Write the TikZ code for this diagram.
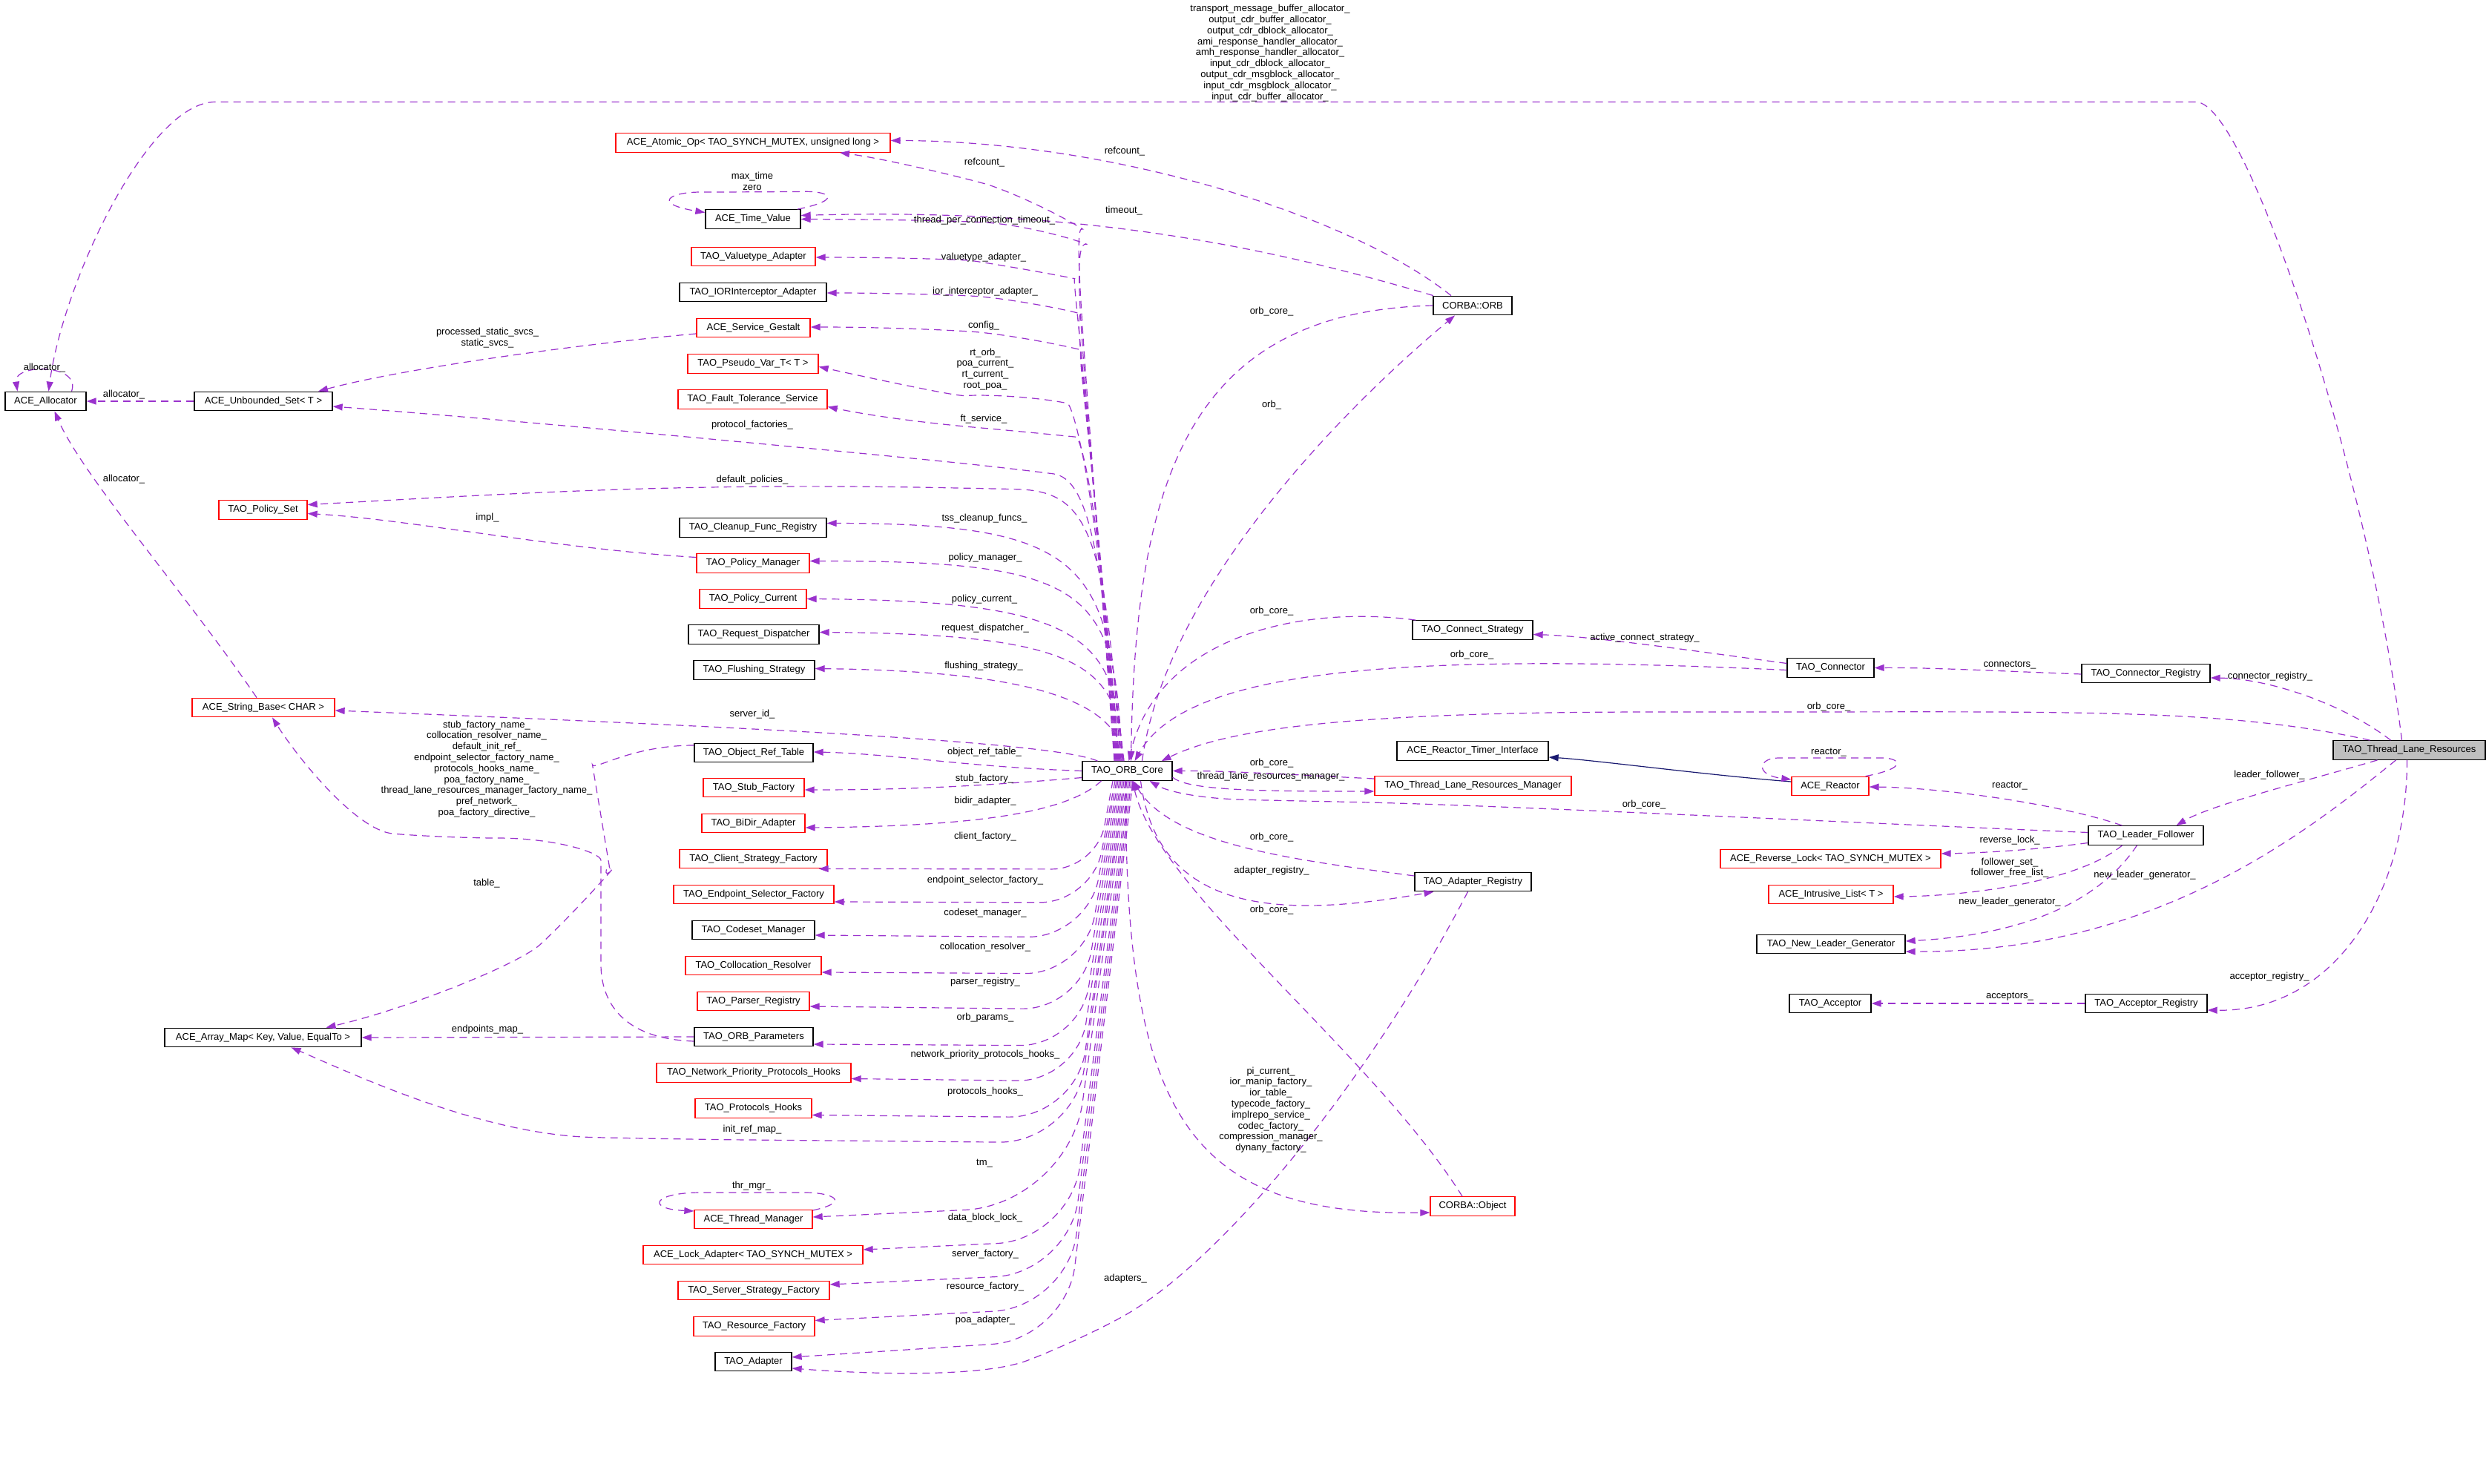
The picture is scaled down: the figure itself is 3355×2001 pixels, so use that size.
\documentclass[tikz,border=0pt]{standalone}
\usepackage{fontspec}
\setmainfont{Liberation Sans}
\usetikzlibrary{arrows.meta}
\definecolor{depc}{HTML}{9A32CD}
\definecolor{inhc}{HTML}{191970}
\definecolor{redb}{HTML}{FF0000}
\definecolor{selfill}{HTML}{BFBFBF}
\newcommand\dgfont{\fontsize{13}{14.8}\selectfont}
\begin{document}
\begin{tikzpicture}[x=1pt,y=-1pt,
  cls/.style={draw=black, line width=1.3pt, minimum height=25.5pt, inner xsep=0pt, inner ysep=0pt, font=\dgfont},
  rcls/.style={cls, draw=redb},
  dep/.style={draw=depc, line width=1.2pt, dash pattern=on 10pt off 7pt, -{Triangle[length=13pt,width=9pt]}, rounded corners=70pt},
  inh/.style={draw=inhc, line width=1.2pt, -{Triangle[length=13pt,width=9pt]}},
  lbl/.style={font=\dgfont, inner sep=0pt, align=center}]
\useasboundingbox (0,0) rectangle (3355,2001);
\fill[white] (0,0) rectangle (3355,2001);
% ---------- nodes
\node[cls, minimum width=109pt] (alloc) at (61.5,541) {ACE\_Allocator};
\node[cls, minimum width=186pt] (uset) at (355,541) {ACE\_Unbounded\_Set< T >};
\node[rcls, minimum width=370pt] (atomic) at (1015,192.5) {ACE\_Atomic\_Op< TAO\_SYNCH\_MUTEX, unsigned long >};
\node[cls, minimum width=128pt] (timev) at (1015,295.5) {ACE\_Time\_Value};
\node[rcls, minimum width=167pt] (valt) at (1015.5,346) {TAO\_Valuetype\_Adapter};
\node[cls, minimum width=198pt] (iori) at (1015,394) {TAO\_IORInterceptor\_Adapter};
\node[rcls, minimum width=153pt] (gestalt) at (1015.5,442) {ACE\_Service\_Gestalt};
\node[rcls, minimum width=176pt] (pseudo) at (1015,490.5) {TAO\_Pseudo\_Var\_T< T >};
\node[rcls, minimum width=201pt] (ftol) at (1014.5,538.5) {TAO\_Fault\_Tolerance\_Service};
\node[rcls, minimum width=119pt] (pset) at (354.5,687.5) {TAO\_Policy\_Set};
\node[cls, minimum width=198pt] (cleanup) at (1015,711.5) {TAO\_Cleanup\_Func\_Registry};
\node[rcls, minimum width=152pt] (pman) at (1015,759.5) {TAO\_Policy\_Manager};
\node[rcls, minimum width=144pt] (pcur) at (1015,807.5) {TAO\_Policy\_Current};
\node[cls, minimum width=176pt] (rdisp) at (1016,855.5) {TAO\_Request\_Dispatcher};
\node[cls, minimum width=163pt] (flush) at (1016.5,903.5) {TAO\_Flushing\_Strategy};
\node[rcls, minimum width=192pt] (sbase) at (355,954) {ACE\_String\_Base< CHAR >};
\node[cls, minimum width=160pt] (oref) at (1016,1015) {TAO\_Object\_Ref\_Table};
\node[rcls, minimum width=136pt] (stub) at (1016,1062) {TAO\_Stub\_Factory};
\node[rcls, minimum width=139pt] (bidir) at (1015.5,1110) {TAO\_BiDir\_Adapter};
\node[rcls, minimum width=199pt] (csf) at (1015.5,1158) {TAO\_Client\_Strategy\_Factory};
\node[rcls, minimum width=216pt] (esf) at (1016,1206) {TAO\_Endpoint\_Selector\_Factory};
\node[cls, minimum width=165pt] (codeset) at (1015.5,1254) {TAO\_Codeset\_Manager};
\node[rcls, minimum width=183pt] (colloc) at (1015.5,1302) {TAO\_Collocation\_Resolver};
\node[rcls, minimum width=151pt] (parser) at (1015.5,1350) {TAO\_Parser\_Registry};
\node[cls, minimum width=265pt] (amap) at (354.5,1399) {ACE\_Array\_Map< Key, Value, EqualTo >};
\node[cls, minimum width=160pt] (oparams) at (1016,1398) {TAO\_ORB\_Parameters};
\node[rcls, minimum width=262pt] (nph) at (1016,1446.5) {TAO\_Network\_Priority\_Protocols\_Hooks};
\node[rcls, minimum width=157pt] (phooks) at (1015.5,1494.5) {TAO\_Protocols\_Hooks};
\node[rcls, minimum width=159pt] (tmgr) at (1015.5,1644) {ACE\_Thread\_Manager};
\node[rcls, minimum width=296pt] (lockad) at (1015,1692) {ACE\_Lock\_Adapter< TAO\_SYNCH\_MUTEX >};
\node[rcls, minimum width=204pt] (ssf) at (1016,1740) {TAO\_Server\_Strategy\_Factory};
\node[rcls, minimum width=163pt] (rfac) at (1016.5,1788.5) {TAO\_Resource\_Factory};
\node[cls, minimum width=103pt] (adapter) at (1015.5,1836) {TAO\_Adapter};
\node[cls, minimum width=121pt] (orbcore) at (1519.5,1039.5) {TAO\_ORB\_Core};
\node[cls, minimum width=106pt] (corb) at (1985,412) {CORBA::ORB};
\node[cls, minimum width=162pt] (cstrat) at (1985,849.5) {TAO\_Connect\_Strategy};
\node[cls, minimum width=204pt] (rti) at (1985,1012.5) {ACE\_Reactor\_Timer\_Interface};
\node[rcls, minimum width=265pt] (tlrm) at (1985.5,1059.5) {TAO\_Thread\_Lane\_Resources\_Manager};
\node[cls, minimum width=157pt] (areg) at (1985.5,1189) {TAO\_Adapter\_Registry};
\node[rcls, minimum width=114pt] (cobj) at (1985,1626.5) {CORBA::Object};
\node[cls, minimum width=117pt] (conn) at (2467.5,900.5) {TAO\_Connector};
\node[cls, minimum width=173pt] (creg) at (2892.5,908) {TAO\_Connector\_Registry};
\node[cls, fill=selfill, minimum width=205pt] (tlr) at (3247.5,1011.5) {TAO\_Thread\_Lane\_Resources};
\node[rcls, minimum width=104pt] (reactor) at (2467,1060) {ACE\_Reactor};
\node[cls, minimum width=155pt] (lf) at (2892.5,1126.5) {TAO\_Leader\_Follower};
\node[rcls, minimum width=297pt] (rlock) at (2467.5,1158) {ACE\_Reverse\_Lock< TAO\_SYNCH\_MUTEX >};
\node[rcls, minimum width=168pt] (ilist) at (2468,1206) {ACE\_Intrusive\_List< T >};
\node[cls, minimum width=200pt] (nlg) at (2468,1273) {TAO\_New\_Leader\_Generator};
\node[cls, minimum width=110pt] (acc) at (2467,1353) {TAO\_Acceptor};
\node[cls, minimum width=164pt] (accreg) at (2893,1353) {TAO\_Acceptor\_Registry};
% ---------- edges: allocator group
\draw[dep] ([xshift=-10pt]tlr.north) .. controls (3195,650) and (3030,137.5) .. (2890,137.5) -- (360,137.5) .. controls (200,137.5) and (85,380) .. ([xshift=4pt]alloc.north);
\draw[dep] ([xshift=35pt]alloc.north) .. controls (110,490) and (18,490) .. ([xshift=-38pt]alloc.north);
\draw[dep] (uset.west) -- (alloc.east);
\draw[dep] ([xshift=-9pt]sbase.north) .. controls (250,800) and (110,640) .. ([xshift=12pt]alloc.south);
\draw[dep] ([yshift=-8pt]gestalt.west) .. controls (800,462) and (550,495) .. ([xshift=74pt]uset.north);
\draw[dep] ([yshift=8pt]pman.west) .. controls (750,740) and (550,700) .. ([yshift=-5pt]pset.east);
% ---------- CORBA::ORB
\draw[dep] ([xshift=-29pt]corb.north) .. controls (1820,290) and (1500,190) .. ([yshift=3pt]atomic.east);
\draw[dep] ([xshift=-53pt]corb.north) .. controls (1700,330) and (1450,280) .. ([yshift=5pt]timev.east);
\draw[dep] (corb.west) .. controls (1600,420) and (1530,650) .. ([xshift=5pt]orbcore.north);
\draw[dep] ([xshift=20pt]orbcore.north) .. controls (1570,800) and (1800,560) .. ([xshift=-24pt]corb.south);
% time value self loop
\draw[dep] ([xshift=60pt]timev.north) .. controls (1135,270) and (1120,258) .. (1015,259) .. controls (900,259) and (880,275) .. ([yshift=9pt]timev.west);
% ---------- ORB_Core fan, upward
\draw[dep] ([xshift=-17.5pt]orbcore.north) .. controls (1460,450) and (1445,300) .. (1400,272) .. controls (1320,245) and (1200,215) .. ([xshift=117pt]atomic.south);
\draw[dep] ([xshift=-16.5pt]orbcore.north) .. controls (1462,480) and (1440,320) .. (1400,305) .. controls (1300,298) and (1200,296) .. (timev.east);
\draw[dep] ([xshift=-15.5pt]orbcore.north) .. controls (1466,520) and (1445,375) .. (1380,362) .. controls (1300,350) and (1200,347) .. ([yshift=-1pt]valt.east);
\draw[dep] ([xshift=-14.5pt]orbcore.north) .. controls (1470,560) and (1445,420) .. (1390,406) .. controls (1300,398) and (1200,395) .. ([yshift=-1pt]iori.east);
\draw[dep] ([xshift=-13.5pt]orbcore.north) .. controls (1474,600) and (1450,470) .. (1390,455) .. controls (1300,446) and (1200,441) .. ([yshift=1pt]gestalt.east);
\draw[dep] ([xshift=-12.5pt]orbcore.north) .. controls (1478,640) and (1445,545) .. (1370,530) .. controls (1290,534) and (1220,520) .. ([yshift=-4pt]pseudo.east);
\draw[dep] ([xshift=-11.5pt]orbcore.north) .. controls (1482,680) and (1458,590) .. (1380,582) .. controls (1300,575) and (1200,566) .. ([yshift=-10pt]ftol.east);
\draw[dep] ([xshift=-10.5pt]orbcore.north) .. controls (1486,750) and (1468,645) .. (1350,630) .. controls (1100,605) and (700,567) .. ([yshift=-7pt]uset.east);
\draw[dep] ([xshift=-9.5pt]orbcore.north) .. controls (1490,720) and (1468,662) .. (1300,658) .. controls (900,652) and (700,665) .. ([yshift=7pt]pset.east);
\draw[dep] ([xshift=-8.5pt]orbcore.north) .. controls (1498,760) and (1465,706) .. ([yshift=6pt]cleanup.east);
\draw[dep] ([xshift=-7.5pt]orbcore.north) .. controls (1504,797) and (1472,756) .. ([yshift=3pt]pman.east);
\draw[dep] ([xshift=-6.5pt]orbcore.north) .. controls (1506,860) and (1463,810) .. (pcur.east);
\draw[dep] ([xshift=-5.5pt]orbcore.north) .. controls (1508,900) and (1464,855) .. ([yshift=3pt]rdisp.east);
\draw[dep] ([xshift=-4.5pt]orbcore.north) .. controls (1510,950) and (1405,905) .. ([yshift=2pt]flush.east);
\draw[dep] ([xshift=-40pt]orbcore.north) .. controls (1420,1000) and (1000,980) .. ([yshift=-4pt]sbase.east);
\draw[dep] (orbcore.west) .. controls (1300,1034) and (1200,1016) .. ([yshift=1pt]oref.east);
\draw[dep] ([yshift=-9pt]orbcore.west) .. controls (1300,1062) and (1200,1065) .. ([yshift=-3pt]stub.east);
% ---------- ORB_Core fan, downward
\draw[dep] ([xshift=-35pt]orbcore.south) .. controls (1440,1095) and (1320,1114) .. ([yshift=-6pt]bidir.east);
\draw[dep, rounded corners=60pt] ([xshift=-19.5pt]orbcore.south) -- (1478,1172) -- ([xshift=-12pt]csf.south east);
\draw[dep] ([xshift=-16.5pt]orbcore.south) -- (1472,1217) -- ([yshift=-10pt]esf.east);
\draw[dep, rounded corners=80pt] ([xshift=-14.5pt]orbcore.south) -- (1466,1264) -- ([yshift=-7pt]codeset.east);
\draw[dep, rounded corners=80pt] ([xshift=-12.5pt]orbcore.south) -- (1462,1313) -- ([yshift=-9pt]colloc.east);
\draw[dep, rounded corners=80pt] ([xshift=-10.5pt]orbcore.south) -- (1458,1361) -- ([yshift=-7pt]parser.east);
\draw[dep, rounded corners=80pt] ([xshift=-8.5pt]orbcore.south) -- (1455,1410) -- ([yshift=-10pt]oparams.east);
\draw[dep, rounded corners=80pt] ([xshift=-6.5pt]orbcore.south) -- (1452,1458) -- ([yshift=-8pt]nph.east);
\draw[dep, rounded corners=90pt] ([xshift=-4.5pt]orbcore.south) -- (1450,1507) -- ([yshift=-9pt]phooks.east);
\draw[dep, rounded corners=100pt] ([xshift=-2.5pt]orbcore.south) -- (1447,1541) -- (900,1536) .. controls (650,1530) and (480,1450) .. ([xshift=38pt]amap.south);
\draw[dep, rounded corners=140pt] ([xshift=-0.5pt]orbcore.south) -- (1440,1625) -- ([yshift=3pt]tmgr.east);
\draw[dep, rounded corners=100pt] ([xshift=1.5pt]orbcore.south) -- (1443,1672) -- ([yshift=7pt]lockad.east);
\draw[dep, rounded corners=100pt] ([xshift=3.5pt]orbcore.south) -- (1441,1717) -- ([yshift=8pt]ssf.east);
\draw[dep, rounded corners=100pt] ([xshift=5.5pt]orbcore.south) -- (1439,1763) -- ([yshift=8pt]rfac.east);
\draw[dep, rounded corners=100pt] ([xshift=7.5pt]orbcore.south) -- (1437,1806) -- ([yshift=6pt]adapter.east);
% thread manager self loop
\draw[dep] ([yshift=12pt]tmgr.east) .. controls (1150,1620) and (1120,1608) .. (1015,1608) .. controls (880,1608) and (870,1630) .. ([yshift=11pt]tmgr.west);
% ---------- string base / array map
\draw[dep] ([yshift=-6pt]oparams.west) .. controls (820,1400) and (810,1330) .. (810,1230) .. controls (810,1150) and (750,1130) .. (600,1130) .. controls (480,1120) and (400,1020) .. ([xshift=12pt]sbase.south);
\draw[dep] ([yshift=10pt]oref.west) .. controls (850,1005) and (800,1040) .. (810,1100) .. controls (820,1160) and (810,1190) .. (780,1225) .. controls (700,1300) and (550,1360) .. ([xshift=85pt]amap.north);
\draw[dep] (oparams.west) -- (amap.east);
% ---------- right part
\draw[dep] ([xshift=5pt]cstrat.north west) .. controls (1750,815) and (1560,860) .. ([xshift=2pt]orbcore.north);
\draw[dep] ([yshift=-3pt]conn.west) .. controls (1900,880) and (1600,900) .. ([xshift=10pt]orbcore.north);
\draw[dep] ([yshift=6pt]conn.west) .. controls (2300,880) and (2150,858) .. ([yshift=-6pt]cstrat.east);
\draw[dep] ([yshift=-1pt]creg.west) .. controls (2700,905) and (2600,900) .. (conn.east);
\draw[dep] ([xshift=-25pt]tlr.north) .. controls (3160,950) and (3060,915) .. ([yshift=-6pt]creg.east);
\draw[dep] ([xshift=-53pt]tlr.north) .. controls (3000,955) and (2800,960) .. (2300,960) .. controls (1800,960) and (1650,985) .. ([xshift=-15pt]orbcore.north east);
\draw[dep] ([yshift=9.5pt]tlrm.west) .. controls (1750,1045) and (1650,1039) .. (orbcore.east);
\draw[dep] ([yshift=-8.5pt]orbcore.east) .. controls (1600,1066) and (1700,1067) .. ([yshift=-7.5pt]tlrm.west);
\draw[inh] ([yshift=6pt]reactor.west) .. controls (2300,1045) and (2150,1025) .. ([yshift=-8.5pt]rti.east);
\draw[dep] ([xshift=-5pt]reactor.north east) .. controls (2575,1035) and (2560,1022) .. (2467,1022) .. controls (2370,1022) and (2365,1045) .. ([yshift=9pt]reactor.west);
\draw[dep] ([xshift=-32pt]lf.north) .. controls (2780,1085) and (2620,1062) .. ([yshift=-1pt]reactor.east);
\draw[dep] ([yshift=4pt]lf.west) .. controls (2400,1105) and (2000,1085) .. (1750,1080) .. controls (1620,1077) and (1575,1068) .. ([xshift=30pt]orbcore.south);
\draw[dep] ([yshift=-10pt]lf.west) .. controls (2750,1145) and (2680,1150) .. ([yshift=7pt]rlock.east);
\draw[dep] ([xshift=-32pt]lf.south) .. controls (2800,1190) and (2650,1208) .. ([yshift=-3pt]ilist.east);
\draw[dep] ([xshift=-12pt]lf.south) .. controls (2820,1230) and (2700,1262) .. ([yshift=4pt]nlg.east);
\draw[dep] ([xshift=-43pt]tlr.south) .. controls (3120,1050) and (2980,1085) .. ([xshift=41pt]lf.north);
\draw[dep] ([xshift=-18pt]tlr.south) .. controls (3100,1130) and (2900,1285) .. ([yshift=-10pt]nlg.east);
\draw[dep] ([xshift=-3pt]tlr.south) .. controls (3245,1200) and (3150,1365) .. ([yshift=-9pt]accreg.east);
\draw[dep] (accreg.west) -- (acc.east);
\draw[dep] ([yshift=8pt]areg.west) .. controls (1750,1160) and (1580,1140) .. ([xshift=8pt]orbcore.south);
\draw[dep] ([xshift=18pt]orbcore.south) .. controls (1560,1230) and (1720,1240) .. ([xshift=-53pt]areg.south);
\draw[dep] ([xshift=-2pt]orbcore.south) .. controls (1515,1500) and (1600,1640) .. ([yshift=-8.5pt]cobj.west);
\draw[dep] ([xshift=-14pt]cobj.north) .. controls (1850,1420) and (1560,1200) .. ([xshift=7pt]orbcore.south);
\draw[dep] ([xshift=-7pt]areg.south) .. controls (1850,1450) and (1650,1700) .. (1450,1810) .. controls (1330,1855) and (1200,1855) .. ([yshift=-9pt]adapter.east);
% ---------- labels
\node[lbl] (t1) at (1712,71.6) {transport\_message\_buffer\_allocator\_\\output\_cdr\_buffer\_allocator\_\\output\_cdr\_dblock\_allocator\_\\ami\_response\_handler\_allocator\_\\amh\_response\_handler\_allocator\_\\input\_cdr\_dblock\_allocator\_\\output\_cdr\_msgblock\_allocator\_\\input\_cdr\_msgblock\_allocator\_\\input\_cdr\_buffer\_allocator\_};
\node[lbl] (t2) at (60,496) {allocator\_};
\node[lbl] (t3) at (167,532) {allocator\_};
\node[lbl] (t4) at (167,646) {allocator\_};
\node[lbl] (t5) at (657,455.5) {processed\_static\_svcs\_\\static\_svcs\_};
\node[lbl] (t6) at (1014,573) {protocol\_factories\_};
\node[lbl] (t7) at (1014,647) {default\_policies\_};
\node[lbl] (t8) at (657,698) {impl\_};
\node[lbl] (t9) at (1516,204) {refcount\_};
\node[lbl] (t10) at (1327,219) {refcount\_};
\node[lbl] (t11) at (1014,244) {max\_time\\zero};
\node[lbl] (t12) at (1515,284) {timeout\_};
\node[lbl] (t13) at (1327,297) {thread\_per\_connection\_timeout\_};
\node[lbl] (t14) at (1326,347) {valuetype\_adapter\_};
\node[lbl] (t15) at (1328,393) {ior\_interceptor\_adapter\_};
\node[lbl] (t16) at (1326,439) {config\_};
\node[lbl] (t17) at (1328,498) {rt\_orb\_\\poa\_current\_\\rt\_current\_\\root\_poa\_};
\node[lbl] (t18) at (1326,565) {ft\_service\_};
\node[lbl] (t19) at (1714,420) {orb\_core\_};
\node[lbl] (t20) at (1714,546) {orb\_};
\node[lbl] (t21) at (1327,699) {tss\_cleanup\_funcs\_};
\node[lbl] (t22) at (1328,752) {policy\_manager\_};
\node[lbl] (t23) at (1327,808) {policy\_current\_};
\node[lbl] (t24) at (1328,847) {request\_dispatcher\_};
\node[lbl] (t25) at (1326,898) {flushing\_strategy\_};
\node[lbl] (t26) at (1014,963) {server\_id\_};
\node[lbl] (t27) at (1327,1014) {object\_ref\_table\_};
\node[lbl] (t28) at (1327,1050) {stub\_factory\_};
\node[lbl] (t29) at (1328,1080) {bidir\_adapter\_};
\node[lbl] (t30) at (1328,1128) {client\_factory\_};
\node[lbl] (t31) at (1328,1187) {endpoint\_selector\_factory\_};
\node[lbl] (t32) at (1328,1231) {codeset\_manager\_};
\node[lbl] (t33) at (1328,1277) {collocation\_resolver\_};
\node[lbl] (t34) at (1328,1324) {parser\_registry\_};
\node[lbl] (t35) at (1328,1372) {orb\_params\_};
\node[lbl] (t36) at (1328,1422) {network\_priority\_protocols\_hooks\_};
\node[lbl] (t37) at (1328,1472) {protocols\_hooks\_};
\node[lbl] (t38) at (1014,1523) {init\_ref\_map\_};
\node[lbl] (t39) at (1327,1569) {tm\_};
\node[lbl] (t40) at (1013,1599) {thr\_mgr\_};
\node[lbl] (t41) at (1328,1642) {data\_block\_lock\_};
\node[lbl] (t42) at (1328,1691) {server\_factory\_};
\node[lbl] (t43) at (1328,1735) {resource\_factory\_};
\node[lbl] (t44) at (1328,1780) {poa\_adapter\_};
\node[lbl] (t45) at (1517,1724) {adapters\_};
\node[lbl] (t46) at (656,1037) {stub\_factory\_name\_\\collocation\_resolver\_name\_\\default\_init\_ref\_\\endpoint\_selector\_factory\_name\_\\protocols\_hooks\_name\_\\poa\_factory\_name\_\\thread\_lane\_resources\_manager\_factory\_name\_\\pref\_network\_\\poa\_factory\_directive\_};
\node[lbl] (t47) at (656,1191) {table\_};
\node[lbl] (t48) at (657,1388) {endpoints\_map\_};
\node[lbl] (t49) at (1714,824) {orb\_core\_};
\node[lbl] (t50) at (1984,883) {orb\_core\_};
\node[lbl] (t51) at (2217,860) {active\_connect\_strategy\_};
\node[lbl] (t52) at (1714,1029) {orb\_core\_};
\node[lbl] (t53) at (1713,1047) {thread\_lane\_resources\_manager\_};
\node[lbl] (t54) at (2216,1085) {orb\_core\_};
\node[lbl] (t55) at (1714,1129) {orb\_core\_};
\node[lbl] (t56) at (1714,1174) {adapter\_registry\_};
\node[lbl] (t57) at (1714,1227) {orb\_core\_};
\node[lbl] (t58) at (1713,1496.5) {pi\_current\_\\ior\_manip\_factory\_\\ior\_table\_\\typecode\_factory\_\\implrepo\_service\_\\codec\_factory\_\\compression\_manager\_\\dynany\_factory\_};
\node[lbl] (t59) at (2709,897) {connectors\_};
\node[lbl] (t60) at (3060,912) {connector\_registry\_};
\node[lbl] (t61) at (2465,953) {orb\_core\_};
\node[lbl] (t62) at (2465,1015) {reactor\_};
\node[lbl] (t63) at (2709,1060) {reactor\_};
\node[lbl] (t64) at (3059,1045) {leader\_follower\_};
\node[lbl] (t65) at (2709,1133) {reverse\_lock\_};
\node[lbl] (t66) at (2709,1170) {follower\_set\_\\follower\_free\_list\_};
\node[lbl] (t67) at (2891,1180) {new\_leader\_generator\_};
\node[lbl] (t68) at (2709,1216) {new\_leader\_generator\_};
\node[lbl] (t69) at (3059,1317) {acceptor\_registry\_};
\node[lbl] (t70) at (2709,1344) {acceptors\_};
\end{tikzpicture}
\end{document}
